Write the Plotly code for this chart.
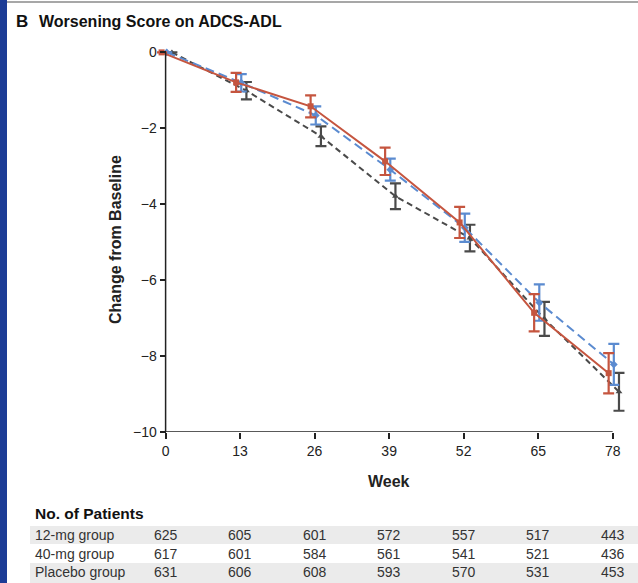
import plotly.graph_objects as go

# ---- data -------------------------------------------------------------
weeks = [0, 13, 26, 39, 52, 65, 78]

mean_12mg = [0, -0.79, -1.42, -2.87, -4.48, -6.86, -8.45]
err_12mg = [None, 0.25, 0.29, 0.36, 0.41, 0.49, 0.53]

mean_40mg = [0, -0.80, -1.66, -3.09, -4.62, -6.59, -8.22]
err_40mg = [None, 0.23, 0.24, 0.29, 0.37, 0.48, 0.54]

mean_placebo = [0, -1.01, -2.21, -3.79, -4.89, -7.02, -8.94]
err_placebo = [None, 0.23, 0.26, 0.34, 0.35, 0.45, 0.50]

row_labels = ["12-mg group", "40-mg group", "Placebo group"]
n_12mg = [625, 605, 601, 572, 557, 517, 443]
n_40mg = [617, 601, 584, 561, 541, 521, 436]
n_placebo = [631, 606, 608, 593, 570, 531, 453]

y_ticks = [0, -2, -4, -6, -8, -10]

# ---- geometry ---------------------------------------------------------
W, H = 638, 583
ML, MR, MT, MB = 157, 11, 41, 151
XR = [-1.5, 80.5]
YR = [-10, 0.3]
plot_w = W - ML - MR
plot_h = H - MT - MB


def px_x(px):
    return (px - ML) / plot_w


def px_y(py):
    return (H - MB - py) / plot_h


RED = "#c5553f"
BLUE = "#5b8bd0"
GRAY = "#4a4a4a"
TXT = "#222222"
FONT = "Liberation Sans"

series = [
    ("Placebo", mean_placebo, err_placebo, GRAY, "6px,4px", "triangle-up", 1.1),
    ("40 mg", mean_40mg, err_40mg, BLUE, "9px,5px", "diamond", 0.2),
    ("12 mg", mean_12mg, err_12mg, RED, "solid", "square", -0.7),
]

fig = go.Figure()
for name, ys, es, col, dash, sym, dx in series:
    fig.add_trace(go.Scatter(
        x=[w + dx for w in weeks], y=ys, name=name, mode="lines+markers",
        line=dict(color=col, width=2, dash=dash),
        marker=dict(symbol=sym, size=6, color=col),
        error_y=dict(type="data", array=es, visible=True, color=col,
                     thickness=2.2, width=5.5),
        cliponaxis=False, showlegend=False,
    ))

# axis lines spanning only the data extent
fig.add_shape(type="line", x0=0, x1=0, y0=0, y1=-10, xref="x", yref="y",
              line=dict(color=TXT, width=1.5))
fig.add_shape(type="line", x0=0, x1=78, y0=-10, y1=-10, xref="x", yref="y",
              line=dict(color=TXT, width=1.5))

# page decoration: left band and top rule
fig.add_shape(type="rect", xref="paper", yref="paper",
              x0=px_x(0), x1=px_x(7), y0=px_y(H), y1=px_y(0),
              fillcolor="#1d3c96", line=dict(width=0), layer="below")
fig.add_shape(type="line", xref="paper", yref="paper",
              x0=px_x(7), x1=px_x(W), y0=px_y(2), y1=px_y(2),
              line=dict(color="#8a8a8a", width=1.5))

annotations = []
annotations.append(dict(text="<b>B</b>", x=px_x(14), y=px_y(22), xref="paper", yref="paper",
                        xanchor="left", yanchor="middle", showarrow=False,
                        font=dict(size=17, color="#111", family=FONT)))
annotations.append(dict(text="<b>Worsening Score on ADCS-ADL</b>", x=px_x(37), y=px_y(22),
                        xref="paper", yref="paper", xanchor="left", yanchor="middle",
                        showarrow=False,
                        font=dict(size=16, color="#111", family=FONT)))
annotations.append(dict(text="<b>Change from Baseline</b>", x=px_x(115), y=px_y(240),
                        xref="paper", yref="paper", textangle=-90, showarrow=False,
                        xanchor="center", yanchor="middle",
                        font=dict(size=16, color=TXT, family=FONT)))
annotations.append(dict(text="<b>Week</b>", x=39, y=px_y(481), xref="x", yref="paper",
                        showarrow=False, xanchor="center", yanchor="middle",
                        font=dict(size=16, color=TXT, family=FONT)))

# number-at-risk table
annotations.append(dict(text="<b>No. of Patients</b>", x=px_x(33), y=px_y(513),
                        xref="paper", yref="paper", xanchor="left", yanchor="middle",
                        showarrow=False,
                        font=dict(size=15.5, color="#111", family=FONT)))
row_y = [535, 554, 572]
bands = [(526, 544), (563, 583)]
for y0, y1 in bands:
    fig.add_shape(type="rect", xref="paper", yref="paper",
                  x0=px_x(30), x1=px_x(W), y0=px_y(y1), y1=px_y(y0),
                  fillcolor="#ebebeb", line=dict(width=0), layer="below")
for label, counts, ry in zip(row_labels, [n_12mg, n_40mg, n_placebo], row_y):
    annotations.append(dict(text=label, x=px_x(33), y=px_y(ry), xref="paper", yref="paper",
                            xanchor="left", yanchor="middle", showarrow=False,
                            font=dict(size=14, color="#333", family=FONT)))
    for wk, n in zip(weeks, counts):
        annotations.append(dict(text=str(n), x=wk, y=px_y(ry), xref="x", yref="paper",
                                xanchor="center", yanchor="middle", showarrow=False,
                                font=dict(size=14, color="#333", family=FONT)))

fig.update_layout(
    width=W, height=H,
    margin=dict(l=ML, r=MR, t=MT, b=MB, pad=0),
    paper_bgcolor="white", plot_bgcolor="white",
    annotations=annotations,
    xaxis=dict(range=XR, tickvals=weeks, ticks="outside", ticklen=6, tickwidth=1.5,
               tickcolor=TXT, showline=False, showgrid=False, zeroline=False,
               tickfont=dict(size=14, color=TXT, family=FONT)),
    yaxis=dict(range=YR, tickvals=y_ticks, ticks="outside", ticklen=6, tickwidth=1.5,
               tickcolor=TXT, showline=False, showgrid=False, zeroline=False,
               anchor="free", position=(0 - XR[0]) / (XR[1] - XR[0]),
               tickfont=dict(size=14, color=TXT, family=FONT)),
)

fig.write_html("out.html")
